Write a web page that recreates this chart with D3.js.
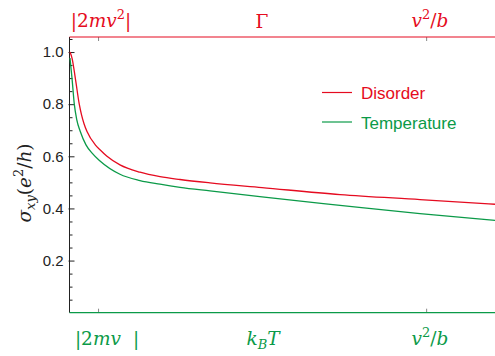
<!DOCTYPE html>
<html>
<head>
<meta charset="utf-8">
<script src="https://cdn.jsdelivr.net/npm/d3@7"></script>
<style>
  body { margin: 0; background: #fff; }
  svg { display: block; }
  .tick text { font-family: "Liberation Sans", Arial, sans-serif; font-size: 15px; fill: #222; }
  .math { font-family: "DejaVu Serif", "Liberation Serif", serif; font-style: italic; }
</style>
</head>
<body>
<div id="chart"></div>
<script>
// chart values (x runs 0..1 across the plot)
var disorderX = [0, 0.005, 0.0125, 0.022, 0.027, 0.033, 0.04, 0.0595, 0.0706, 0.087, 0.1176, 0.1647, 0.2118, 0.2588, 0.3294, 0.4518, 0.6353, 0.8235, 1.0];
var disorderY = [1.0, 0.975, 0.90, 0.798, 0.76, 0.725, 0.695, 0.644, 0.625, 0.600, 0.567, 0.539, 0.522, 0.511, 0.498, 0.48, 0.453, 0.434, 0.416];
var temperatureX = [0, 0.0047, 0.0101, 0.016, 0.0242, 0.0376, 0.052, 0.0706, 0.1176, 0.1647, 0.2118, 0.2588, 0.3294, 0.4518, 0.6353, 0.8235, 1.0];
var temperatureY = [0.977, 0.90, 0.80, 0.74, 0.695, 0.644, 0.612, 0.582, 0.531, 0.507, 0.493, 0.481, 0.467, 0.444, 0.412, 0.38, 0.354];
var yTicks = [0.2, 0.4, 0.6, 0.8, 1.0];
var xTicks = [0.066, 0.838];
var seriesNames = ["Disorder", "Temperature"];

var red = "#e50b20";
var green = "#0b9a48";

var width = 495, height = 356;
var plotLeft = 69.5, plotRight = 495, plotTop = 37, plotBottom = 312.7;

var svg = d3.select("#chart").append("svg")
    .attr("width", width)
    .attr("height", height);

var x = d3.scaleLinear().domain([0, 1]).range([70, plotRight]);
var y = d3.scaleLinear().domain([0, 1.0577]).range([plotBottom, plotTop]);

// minor ticks on the left axis every 0.05
var minor = d3.range(1, 22).map(function(i) { return i * 0.05; })
  .filter(function(v, i) { return (i + 1) % 4 !== 0; });
svg.append("g")
    .attr("transform", "translate(" + plotLeft + ",0)")
    .call(d3.axisRight(y).tickValues(minor).tickSize(3).tickFormat(""))
    .call(function(g) { g.select(".domain").remove(); })
    .selectAll("line").attr("stroke", "#222");

var yAxis = svg.append("g")
    .attr("transform", "translate(" + plotLeft + ",0)")
    .call(d3.axisLeft(y).tickValues(yTicks).tickSize(0).tickPadding(6).tickFormat(d3.format(".1f")));
yAxis.select(".domain").remove();
svg.append("g")
    .attr("transform", "translate(" + (plotLeft - 1) + ",0)")
    .call(d3.axisRight(y).tickValues(yTicks).tickSize(6).tickFormat(""))
    .call(function(g) { g.select(".domain").remove(); })
    .selectAll("line").attr("stroke", "#222");

// x ticks, top and bottom, pointing inward
svg.append("g")
    .attr("transform", "translate(0," + plotTop + ")")
    .call(d3.axisBottom(x).tickValues(xTicks).tickSize(4).tickFormat(""))
    .call(function(g) { g.select(".domain").remove(); })
    .selectAll("line").attr("stroke", "#888");
svg.append("g")
    .attr("transform", "translate(0," + plotBottom + ")")
    .call(d3.axisTop(x).tickValues(xTicks).tickSize(4).tickFormat(""))
    .call(function(g) { g.select(".domain").remove(); })
    .selectAll("line").attr("stroke", "#888");

// frame
svg.append("line").attr("x1", plotLeft).attr("x2", plotLeft).attr("y1", plotTop).attr("y2", plotBottom)
    .attr("stroke", "#222").attr("stroke-width", 1);
svg.append("line").attr("x1", plotLeft).attr("x2", plotRight).attr("y1", plotTop).attr("y2", plotTop)
    .attr("stroke", red).attr("stroke-width", 1.2);
svg.append("line").attr("x1", plotLeft).attr("x2", plotRight).attr("y1", plotBottom).attr("y2", plotBottom)
    .attr("stroke", green).attr("stroke-width", 1.2);

// curves
var line = d3.line()
    .x(function(d) { return x(d[0]); })
    .y(function(d) { return y(d[1]); })
    .curve(d3.curveMonotoneX);

svg.append("path")
    .datum(d3.zip(temperatureX, temperatureY))
    .attr("fill", "none")
    .attr("stroke", green)
    .attr("stroke-width", 1.3)
    .attr("d", line);
svg.append("path")
    .datum(d3.zip(disorderX, disorderY))
    .attr("fill", "none")
    .attr("stroke", red)
    .attr("stroke-width", 1.3)
    .attr("d", line);

// legend
var legend = svg.append("g").attr("transform", "translate(322,92.5)");
[red, green].forEach(function(c, i) {
  legend.append("line").attr("x1", 0).attr("x2", 30)
      .attr("y1", i * 29.5).attr("y2", i * 29.5)
      .attr("stroke", c).attr("stroke-width", 1.2);
  legend.append("text").attr("x", 39).attr("y", i * 29.5 + 6.5)
      .attr("fill", c)
      .style("font-family", "'Liberation Sans', Arial, sans-serif")
      .style("font-size", "17px")
      .text(seriesNames[i]);
});

// top labels (red)
var topLab = svg.append("g").attr("fill", red).style("font-size", "18.5px");
var t1 = topLab.append("text").attr("class", "math").attr("x", 101).attr("y", 27).attr("text-anchor", "middle");
t1.append("tspan").style("font-style", "normal").text("|2");
t1.append("tspan").text("mv");
t1.append("tspan").attr("dy", -8).style("font-size", "13px").style("font-style", "normal").text("2");
t1.append("tspan").attr("dy", 8).style("font-style", "normal").text("|");
topLab.append("text").attr("x", 262).attr("y", 27.5).attr("text-anchor", "middle")
    .style("font-family", "'DejaVu Serif', serif").text("Γ");
var t3 = topLab.append("text").attr("class", "math").attr("x", 430).attr("y", 27).attr("text-anchor", "middle");
t3.append("tspan").text("v");
t3.append("tspan").attr("dy", -8).style("font-size", "13px").style("font-style", "normal").text("2");
t3.append("tspan").attr("dy", 8).style("font-style", "normal").text("/");
t3.append("tspan").text("b");

// bottom labels (green)
var botLab = svg.append("g").attr("fill", green).style("font-size", "18.5px");
var b1 = botLab.append("text").attr("class", "math").attr("x", 107).attr("y", 345).attr("text-anchor", "middle");
b1.append("tspan").style("font-style", "normal").text("|2");
b1.append("tspan").text("mv");
b1.append("tspan").style("font-style", "normal").attr("dx", 12).text("|");
var b2 = botLab.append("text").attr("class", "math").attr("x", 263).attr("y", 345).attr("text-anchor", "middle");
b2.append("tspan").text("k");
b2.append("tspan").attr("dy", 4).style("font-size", "13px").text("B");
b2.append("tspan").attr("dy", -4).text("T");
var b3 = botLab.append("text").attr("class", "math").attr("x", 430).attr("y", 345).attr("text-anchor", "middle");
b3.append("tspan").text("v");
b3.append("tspan").attr("dy", -8).style("font-size", "13px").style("font-style", "normal").text("2");
b3.append("tspan").attr("dy", 8).style("font-style", "normal").text("/");
b3.append("tspan").text("b");

// y label
var yl = svg.append("text").attr("class", "math")
    .attr("transform", "translate(31,183) rotate(-90)")
    .attr("text-anchor", "middle")
    .attr("fill", "#222")
    .style("font-size", "18.5px");
yl.append("tspan").text("σ");
yl.append("tspan").attr("dy", 4).style("font-size", "13px").text("xy");
yl.append("tspan").attr("dy", -4).style("font-style", "normal").text("(");
yl.append("tspan").text("e");
yl.append("tspan").attr("dy", -8).style("font-size", "13px").style("font-style", "normal").text("2");
yl.append("tspan").attr("dy", 8).style("font-style", "normal").text("/");
yl.append("tspan").text("h");
yl.append("tspan").style("font-style", "normal").text(")");
</script>
</body>
</html>
